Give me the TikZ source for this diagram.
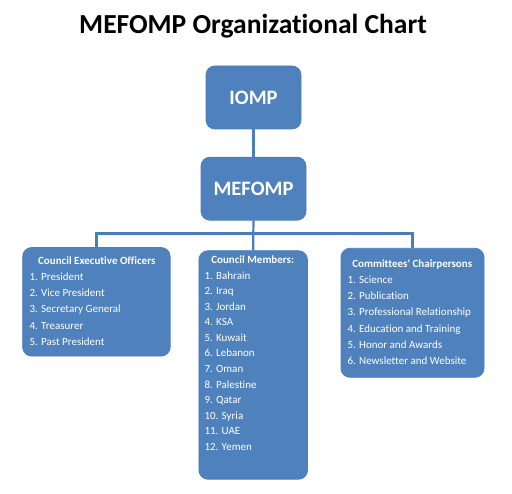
\documentclass[tikz,border=0pt]{standalone}
\usepackage{fontspec}
\setmainfont{Carlito}[Ligatures={NoCommon}]
\definecolor{boxblue}{HTML}{4F81BD}
\definecolor{edgeblue}{HTML}{4A7EBB}
\begin{document}
\begin{tikzpicture}[x=1pt,y=-1pt,
  orgbox/.style={draw=edgeblue,line width=0.8pt,fill=boxblue,rounded corners=9pt,inner sep=0pt},
  link/.style={draw=edgeblue,line width=2.2pt},
  toplabel/.style={text=white,font=\fontsize{20.5}{24}\selectfont\bfseries},
  headlabel/.style={text=white,font=\fontsize{11}{13}\selectfont\bfseries,anchor=base},
  itemlabel/.style={text=white,font=\fontsize{11}{13}\selectfont,anchor=base west,inner sep=0pt}]
\useasboundingbox (0,0) rectangle (512,494);
\fill[white] (0,0) rectangle (512,494);
\node[anchor=base,inner sep=0pt,font=\fontsize{27.5}{32}\selectfont\bfseries] (title) at (253,33.7) {MEFOMP Organizational Chart};
% boxes
\node[orgbox,minimum width=95pt,minimum height=63pt] (iomp) at (253.5,97.5) {};
\node[toplabel] (iompt) at (iomp.center) {IOMP};
\node[orgbox,minimum width=105pt,minimum height=63pt] (mef) at (253.5,188.7) {};
\node[toplabel] (meft) at (mef.center) {MEFOMP};
\node[orgbox,minimum width=147.5pt,minimum height=108.5pt] (ceo) at (96.4,301.8) {};
\node[orgbox,minimum width=108.5pt,minimum height=228.5pt] (cm) at (253.2,365) {};
\node[orgbox,minimum width=143pt,minimum height=129pt] (cc) at (412.5,312.8) {};
% connectors
\coordinate (j) at (253.3,233.5);
\draw[link] (iomp.south) -- (mef.north);
\draw[link] (mef.south) -- (j);
\draw[link] (j) -| (ceo.north);
\draw[link] (j) -| (cc.north);
\draw[link] (j) -- (cm.north);
% left box text
\node[headlabel] (h1) at (96.8,264.2) {Council Executive Officers};
\foreach \t [count=\i] in {President,Vice President,Secretary General,Treasurer,Past President}
  \node[itemlabel] (a\i) at (29.3,{280.2+16.3*(\i-1)}) {\i. \t};
% middle box text
\node[headlabel] (h2) at (252.7,263.5) {Council Members:};
\foreach \t [count=\i] in {Bahrain,Iraq,Jordan,KSA,Kuwait,Lebanon,Oman,Palestine,Qatar,Syria,UAE,Yemen}
  \node[itemlabel] (b\i) at (204.3,{279.2+15.55*(\i-1)}) {\i. \t};
% right box text
\node[headlabel] (h3) at (412.3,267.5) {Committees\textquotesingle\ Chairpersons};
\foreach \t [count=\i] in {Science,Publication,Professional Relationship,Education and Training,Honor and Awards,Newsletter and Website}
  \node[itemlabel] (c\i) at (347.3,{283.5+16.25*(\i-1)}) {\i. \t};
\end{tikzpicture}
\end{document}
